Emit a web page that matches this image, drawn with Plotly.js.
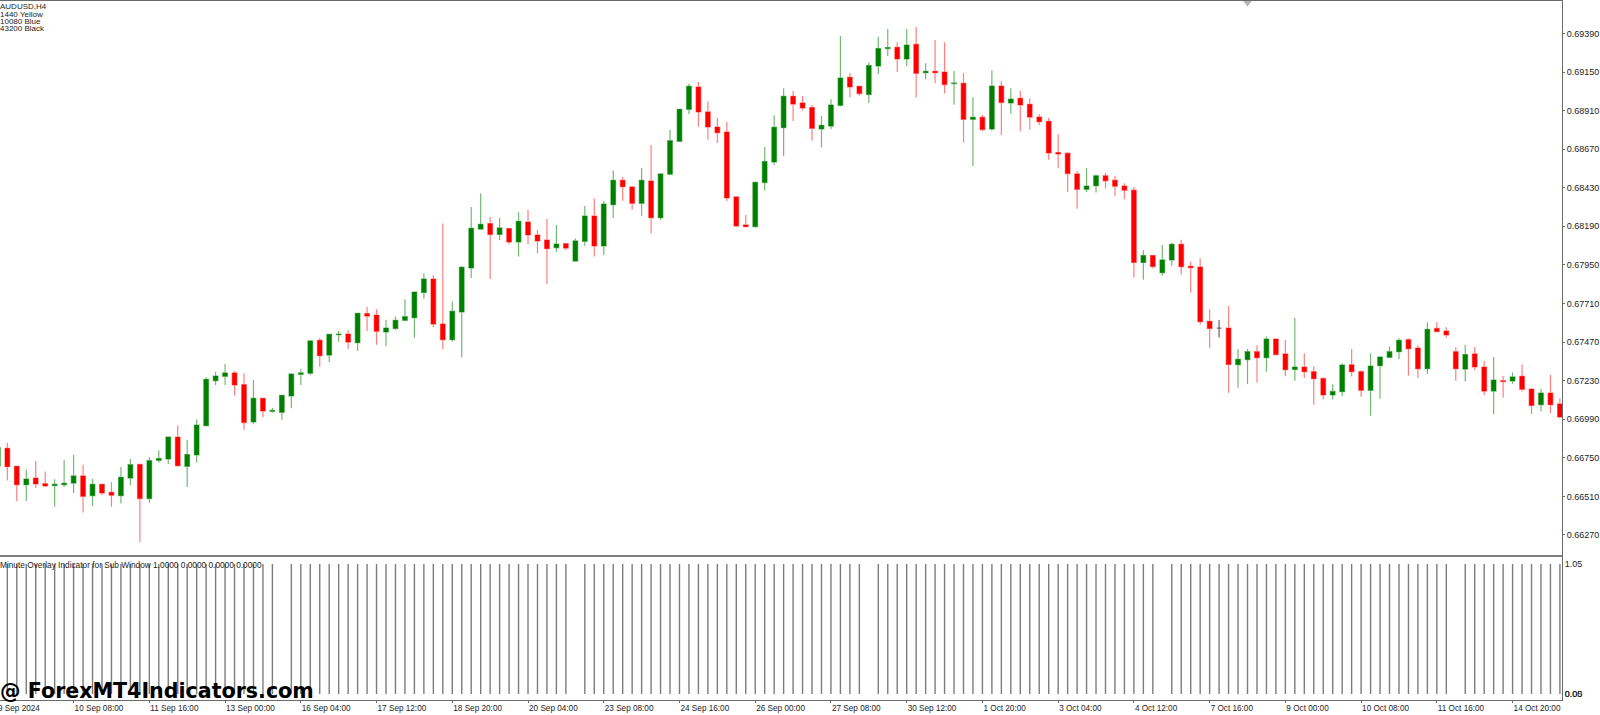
<!DOCTYPE html>
<html>
<head>
<meta charset="utf-8">
<script src="https://cdn.plot.ly/plotly-3.0.1.min.js"></script>
<style>html,body{margin:0;padding:0;background:#fff}#chart{width:1600px;height:715px}</style>
</head>
<body>
<div id="chart"></div>
<script>
// AUDUSD H4 candles, first bar is index -1
const firstBar = -1;
const opens = [0.66699,0.66809,0.66697,0.66583,0.66624,0.66589,0.66577,0.66583,0.66593,0.66637,0.66514,0.66585,0.66535,0.66514,0.66624,0.66709,0.66496,0.66734,0.66743,0.66879,0.66697,0.66768,0.66950,0.67230,0.67257,0.67278,0.67205,0.66973,0.67120,0.67039,0.67033,0.67135,0.67269,0.67276,0.67481,0.67389,0.67516,0.67520,0.67466,0.67647,0.67638,0.67533,0.67555,0.67605,0.67622,0.67779,0.67862,0.67582,0.67485,0.67657,0.67931,0.68173,0.68207,0.68140,0.68176,0.68093,0.68217,0.68136,0.68105,0.68057,0.68082,0.67974,0.68097,0.68254,0.68068,0.68325,0.68476,0.68435,0.68333,0.68472,0.68244,0.68514,0.68719,0.68918,0.69057,0.68902,0.68808,0.68777,0.68373,0.68199,0.68188,0.68462,0.68591,0.68804,0.68999,0.68958,0.68929,0.68796,0.68814,0.68943,0.69117,0.69061,0.69011,0.69188,0.69296,0.69304,0.69231,0.69323,0.69146,0.69155,0.69150,0.69078,0.69080,0.68856,0.68868,0.68796,0.69063,0.68958,0.68987,0.68949,0.68870,0.68844,0.68649,0.68645,0.68516,0.68420,0.68443,0.68504,0.68477,0.68441,0.68415,0.67965,0.68008,0.67902,0.67981,0.68078,0.67941,0.67937,0.67599,0.67557,0.67557,0.67329,0.67360,0.67410,0.67373,0.67489,0.67396,0.67300,0.67315,0.67286,0.67244,0.67141,0.67161,0.67329,0.67286,0.67170,0.67323,0.67375,0.67410,0.67485,0.67433,0.67304,0.67555,0.67539,0.67410,0.67302,0.67396,0.67315,0.67165,0.67230,0.67228,0.67257,0.67178,0.67080,0.67153,0.67085];
const highs = [0.66861,0.66844,0.66697,0.66678,0.66730,0.66664,0.66616,0.66736,0.66767,0.66707,0.66618,0.66585,0.66599,0.66693,0.66743,0.66709,0.66753,0.66797,0.66879,0.66952,0.66861,0.66989,0.67251,0.67286,0.67334,0.67290,0.67276,0.67234,0.67120,0.67062,0.67139,0.67276,0.67303,0.67483,0.67493,0.67518,0.67539,0.67543,0.67653,0.67690,0.67674,0.67609,0.67628,0.67736,0.67781,0.67898,0.67885,0.68207,0.67723,0.67943,0.68310,0.68395,0.68248,0.68244,0.68178,0.68277,0.68292,0.68167,0.68236,0.68198,0.68086,0.68115,0.68317,0.68364,0.68348,0.68538,0.68497,0.68441,0.68553,0.68696,0.68516,0.68790,0.68918,0.69076,0.69088,0.68966,0.68866,0.68839,0.68379,0.68261,0.68468,0.68684,0.68881,0.69049,0.69032,0.69001,0.68945,0.68877,0.68980,0.69374,0.69142,0.69063,0.69209,0.69370,0.69418,0.69335,0.69418,0.69430,0.69204,0.69350,0.69335,0.69157,0.69146,0.68993,0.68883,0.69161,0.69092,0.69049,0.69034,0.68987,0.68887,0.68864,0.68763,0.68649,0.68535,0.68553,0.68512,0.68523,0.68504,0.68458,0.68435,0.68041,0.68008,0.68074,0.68088,0.68107,0.67970,0.67991,0.67674,0.67607,0.67694,0.67427,0.67427,0.67450,0.67504,0.67489,0.67483,0.67620,0.67400,0.67319,0.67244,0.67207,0.67338,0.67427,0.67294,0.67400,0.67381,0.67443,0.67493,0.67493,0.67450,0.67593,0.67595,0.67562,0.67437,0.67452,0.67439,0.67352,0.67377,0.67259,0.67280,0.67331,0.67178,0.67178,0.67265,0.67120];
const lows = [0.66664,0.66608,0.66479,0.66481,0.66562,0.66568,0.66446,0.66568,0.66531,0.66409,0.66450,0.66517,0.66446,0.66465,0.66579,0.66226,0.66471,0.66720,0.66712,0.66695,0.66568,0.66720,0.66950,0.67203,0.67203,0.67137,0.66925,0.66958,0.67002,0.67031,0.66987,0.67058,0.67203,0.67265,0.67317,0.67346,0.67472,0.67427,0.67414,0.67539,0.67454,0.67446,0.67545,0.67599,0.67497,0.67740,0.67564,0.67425,0.67472,0.67375,0.67869,0.68173,0.67862,0.68105,0.68078,0.68003,0.68080,0.68022,0.67831,0.68030,0.68043,0.67974,0.68070,0.68003,0.68012,0.68242,0.68350,0.68294,0.68256,0.68145,0.68230,0.68514,0.68717,0.68889,0.68810,0.68729,0.68709,0.68348,0.68184,0.68184,0.68188,0.68412,0.68572,0.68628,0.68846,0.68910,0.68723,0.68682,0.68796,0.68935,0.68991,0.69003,0.68958,0.69136,0.69250,0.69150,0.69186,0.68991,0.69105,0.69080,0.69016,0.68947,0.68711,0.68566,0.68783,0.68785,0.68756,0.68891,0.68781,0.68792,0.68821,0.68605,0.68553,0.68406,0.68300,0.68404,0.68400,0.68425,0.68377,0.68358,0.67871,0.67857,0.67927,0.67883,0.67945,0.67891,0.67777,0.67580,0.67435,0.67499,0.67155,0.67186,0.67209,0.67219,0.67286,0.67385,0.67257,0.67230,0.67246,0.67080,0.67112,0.67112,0.67134,0.67255,0.67130,0.67012,0.67118,0.67371,0.67365,0.67261,0.67246,0.67271,0.67533,0.67497,0.67230,0.67224,0.67294,0.67141,0.67022,0.67124,0.67211,0.67163,0.67022,0.67039,0.67027,0.66995];
const closes = [0.66813,0.66695,0.66583,0.66618,0.66587,0.66575,0.66585,0.66591,0.66637,0.66510,0.66585,0.66531,0.66517,0.66629,0.66707,0.66496,0.66732,0.66745,0.66879,0.66701,0.66770,0.66954,0.67238,0.67259,0.67278,0.67203,0.66969,0.67120,0.67041,0.67045,0.67139,0.67271,0.67278,0.67477,0.67385,0.67518,0.67520,0.67470,0.67649,0.67632,0.67537,0.67557,0.67605,0.67628,0.67781,0.67862,0.67582,0.67485,0.67661,0.67935,0.68178,0.68203,0.68140,0.68180,0.68093,0.68221,0.68136,0.68099,0.68051,0.68080,0.68055,0.68099,0.68254,0.68068,0.68329,0.68476,0.68437,0.68333,0.68476,0.68244,0.68516,0.68723,0.68918,0.69061,0.68902,0.68808,0.68773,0.68367,0.68192,0.68188,0.68464,0.68593,0.68806,0.68999,0.68951,0.68927,0.68800,0.68819,0.68945,0.69113,0.69057,0.69016,0.69190,0.69296,0.69302,0.69231,0.69318,0.69142,0.69155,0.69146,0.69072,0.69082,0.68856,0.68868,0.68792,0.69063,0.68960,0.68982,0.68945,0.68870,0.68841,0.68647,0.68640,0.68518,0.68420,0.68441,0.68504,0.68473,0.68440,0.68415,0.67965,0.68008,0.67940,0.67981,0.68078,0.67939,0.67933,0.67597,0.67555,0.67557,0.67331,0.67363,0.67410,0.67373,0.67489,0.67392,0.67298,0.67315,0.67286,0.67242,0.67141,0.67163,0.67327,0.67286,0.67170,0.67321,0.67377,0.67410,0.67481,0.67429,0.67304,0.67549,0.67535,0.67514,0.67304,0.67392,0.67315,0.67165,0.67234,0.67224,0.67253,0.67176,0.67076,0.67153,0.67080,0.67004];
// Sub window histogram, one value per bar
const overlay = [1,1,1,1,1,1,1,1,1,1,1,1,1,1,1,1,1,1,1,1,1,1,1,1,1,1,1,1,1,1,0,1,1,1,1,1,1,1,1,1,1,1,1,1,1,1,1,1,1,1,1,1,1,1,1,1,1,1,1,1,1,0,1,1,1,1,1,1,1,1,1,1,1,1,1,1,1,1,1,1,1,1,1,1,1,1,1,1,1,1,1,1,0,1,1,1,1,1,1,1,1,1,1,1,1,1,1,1,1,1,1,1,1,1,1,1,1,1,1,1,1,1,1,0,1,1,1,1,1,1,1,1,1,1,1,1,1,1,1,1,1,1,1,1,1,1,1,1,1,1,1,1,1,1,0,1,1,1,1,1,1,1,1,1,1,1];
const dojiBars = [128];
const priceTicks = [0.6939,0.6915,0.6891,0.6867,0.6843,0.6819,0.6795,0.6771,0.6747,0.6723,0.6699,0.6675,0.6651,0.6627];
const firstTimeLabel = '9 Sep 2024';
const timeTickBars = [7,15,23,31,39,47,55,63,71,79,87,95,103,111,119,127,135,143,151,159];
const timeTickLabels = ['10 Sep 08:00','11 Sep 16:00','13 Sep 00:00','16 Sep 04:00','17 Sep 12:00','18 Sep 20:00','20 Sep 04:00','23 Sep 08:00','24 Sep 16:00','26 Sep 00:00','27 Sep 08:00','30 Sep 12:00','1 Oct 20:00','3 Oct 04:00','4 Oct 12:00','7 Oct 16:00','9 Oct 00:00','10 Oct 08:00','11 Oct 16:00','14 Oct 20:00'];
const subTicks = [1,0,-0.001];
const subTickLabels = ['1.05','0.00','0.05'];
const markerBar = [131];
const markerPrice = [0.69583];
const infoLines = ['AUDUSD,H4','1440 Yellow','10080 Blue','43200 Black'];
const subTitle = 'Minute Overlay Indicator for Sub Window 1.0000 0.0000 0.0000 0.0000';
const watermark = '@ ForexMT4Indicators.com';

const bars = opens.map((_, k) => firstBar + k);
const isDoji = b => dojiBars.includes(b);
const pick = arr => arr.filter((_, k) => !isDoji(bars[k]));
const pickDoji = arr => arr.filter((_, k) => isDoji(bars[k]));

const FRAME = '#6a6a6a', TXT = '#1c1c1c', FONT = '"Liberation Sans", Arial, sans-serif';
const side = (solid, wick) => ({line: {color: wick, width: 1.2}, fillcolor: solid});

// histogram stems: each non-zero overlay value drawn from zero up to its value
const stemX = [], stemY = [];
overlay.forEach((v, k) => { if (v) { stemX.push(bars[k], bars[k], null); stemY.push(0, v, null); } });

const traces = [
  {type: 'candlestick', x: pick(bars), open: pick(opens), high: pick(highs), low: pick(lows), close: pick(closes),
   xaxis: 'x', yaxis: 'y', increasing: side('#008000', 'rgba(0,128,0,0.55)'), decreasing: side('#ff0000', 'rgba(255,0,0,0.5)'),
   hoverinfo: 'skip', showlegend: false},
  {type: 'candlestick', x: pickDoji(bars), open: pickDoji(opens), high: pickDoji(highs), low: pickDoji(lows), close: pickDoji(closes),
   xaxis: 'x', yaxis: 'y', increasing: side('#333333', 'rgba(40,40,40,0.7)'), decreasing: side('#333333', 'rgba(40,40,40,0.7)'),
   hoverinfo: 'skip', showlegend: false},
  {type: 'scatter', mode: 'lines', x: stemX, y: stemY, xaxis: 'x2', yaxis: 'y2', connectgaps: false,
   line: {color: '#7c7c7c', width: 1.4}, hoverinfo: 'skip', showlegend: false},
  {type: 'scatter', mode: 'markers', x: markerBar, y: markerPrice, xaxis: 'x', yaxis: 'y', cliponaxis: false,
   marker: {symbol: 'triangle-down', size: 8, color: '#b4b4b4'}, hoverinfo: 'skip', showlegend: false}
];

const pyToPaper = py => (700 - py) / 699;
const note = (text, py, size, extra) => Object.assign({
  text, x: 0, y: pyToPaper(py), xref: 'paper', yref: 'paper', xanchor: 'left', yanchor: 'middle',
  showarrow: false, borderpad: 0, borderwidth: 0, font: {family: FONT, size, color: TXT}
}, extra || {});

const xRange = [-0.774, 164.22];
const layout = {
  width: 1600, height: 715, paper_bgcolor: '#ffffff', plot_bgcolor: '#ffffff',
  margin: {l: 0, r: 37.5, t: 1, b: 15, pad: 0},
  showlegend: false, font: {family: FONT, size: 9, color: TXT},
  xaxis: {domain: [0, 1], range: xRange, anchor: 'y', showgrid: false, zeroline: false, showticklabels: false,
          ticks: '', showline: true, linecolor: FRAME, linewidth: 1, mirror: true, rangeslider: {visible: false}, fixedrange: true},
  yaxis: {domain: [0.20601, 1], range: [0.66139, 0.69592], side: 'right', anchor: 'x', showgrid: false, zeroline: false,
          tickmode: 'array', tickvals: priceTicks, tickformat: '.5f', ticks: 'outside', ticklen: 2, tickcolor: FRAME,
          showline: true, linecolor: FRAME, linewidth: 1, mirror: true, tickfont: {family: FONT, size: 9, color: TXT}, fixedrange: true},
  xaxis2: {domain: [0, 1], range: xRange, anchor: 'y2', showgrid: false, zeroline: false,
           tickmode: 'array', tickvals: timeTickBars, ticktext: timeTickLabels, ticks: 'outside', ticklen: 2, tickcolor: FRAME, tickangle: 0,
           ticklabelposition: 'outside right', showline: true, linecolor: FRAME, linewidth: 1, mirror: true,
           tickfont: {family: FONT, size: 8.2, color: TXT}, fixedrange: true},
  yaxis2: {domain: [0, 0.20458], range: [-0.0462, 1.0538], side: 'right', anchor: 'x2', showgrid: false, zeroline: false,
           tickmode: 'array', tickvals: subTicks, ticktext: subTickLabels, ticks: '', showline: true, linecolor: FRAME, linewidth: 1, mirror: true,
           tickfont: {family: FONT, size: 9, color: TXT}, fixedrange: true},
  shapes: [
    {type: 'line', xref: 'paper', yref: 'paper', x0: 0, x1: 1, y0: pyToPaper(556), y1: pyToPaper(556), line: {color: '#808080', width: 2}}
  ],
  annotations: [
    note(infoLines[0], 6.7, 8), note(infoLines[1], 14.5, 8), note(infoLines[2], 21.7, 8), note(infoLines[3], 29, 8),
    note(subTitle, 565, 8.3),
    note(firstTimeLabel, 708.3, 8.2, {x: -0.0012}),
    note(watermark, 690.7, 20.6, {font: {family: '"DejaVu Sans", sans-serif', size: 20.6, color: '#000000', weight: 700}})
  ]
};
Plotly.newPlot('chart', traces, layout, {displayModeBar: false, staticPlot: true});
</script>
</body>
</html>
